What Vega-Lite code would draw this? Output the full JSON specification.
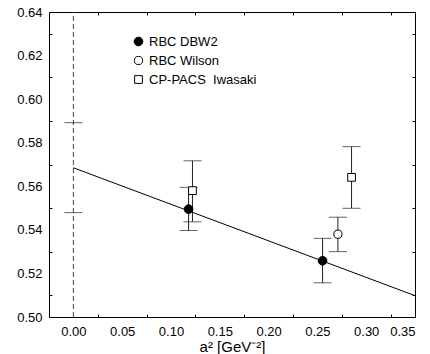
{
  "$schema": "https://vega.github.io/schema/vega-lite/v6.json",
  "width": 366,
  "height": 305,
  "autosize": {"type": "none"},
  "padding": {"left": 49, "top": 12, "right": 15, "bottom": 37},
  "config": {
    "font": "Liberation Sans",
    "view": {"stroke": "#000", "strokeWidth": 1},
    "axis": {"domain": false, "ticks": false, "grid": true, "gridColor": "#000", "gridOpacity": 1, "gridWidth": 1, "labelColor": "#000", "titleColor": "#000", "labelFontSize": 13, "titleFontSize": 15, "titleFontWeight": "normal"}
  },
  "datasets": {
    "bars": [
      {"series": "Extrapolation", "x": 0, "y": 0.5685, "lo": 0.5479, "hi": 0.5892},
      {"series": "RBC DBW2", "x": 0.118, "y": 0.5495, "lo": 0.5397, "hi": 0.5595},
      {"series": "RBC DBW2", "x": 0.2553, "y": 0.5258, "lo": 0.5157, "hi": 0.5361},
      {"series": "RBC Wilson", "x": 0.271, "y": 0.538, "lo": 0.530, "hi": 0.5458},
      {"series": "CP-PACS\u00a0\u00a0Iwasaki", "x": 0.122, "y": 0.558, "lo": 0.5437, "hi": 0.5717},
      {"series": "CP-PACS\u00a0\u00a0Iwasaki", "x": 0.285, "y": 0.5641, "lo": 0.5499, "hi": 0.5782}
    ],
    "fit": [{"x": 0, "y": 0.5685}, {"x": 0.35, "y": 0.5098}],
    "vline": [{"x": 0, "y": 0.50, "y2": 0.64}]
  },
  "resolve": {"axis": {"x": "independent", "y": "independent"}},
  "layer": [
    {
      "data": {"name": "vline"},
      "mark": {"type": "rule", "strokeDash": [5, 3], "color": "#444", "strokeWidth": 1},
      "encoding": {
        "x": {"field": "x", "type": "quantitative", "scale": {"domain": [-0.025, 0.35], "nice": false, "zero": false},
          "axis": {"orient": "bottom", "labels": false, "title": null, "gridDash": [3, 299],
            "values": [-0.025, 0.025, 0.075, 0.125, 0.175, 0.225, 0.275, 0.325]}},
        "y": {"field": "y", "type": "quantitative", "scale": {"domain": [0.5, 0.64], "nice": false, "zero": false},
          "axis": {"orient": "left", "labels": false, "title": null, "gridDash": [3, 360],
            "values": [0.51, 0.53, 0.55, 0.57, 0.59, 0.61, 0.63]}},
        "y2": {"field": "y2"}
      }
    },
    {
      "data": {"name": "fit"},
      "mark": {"type": "line", "color": "#000", "strokeWidth": 1},
      "encoding": {
        "x": {"field": "x", "type": "quantitative", "axis": null},
        "y": {"field": "y", "type": "quantitative", "axis": null}
      }
    },
    {
      "data": {"name": "bars"},
      "transform": [{"filter": "datum.series != 'Extrapolation'"}],
      "mark": {"type": "rule", "color": "#222", "strokeWidth": 1},
      "encoding": {
        "x": {"field": "x", "type": "quantitative", "axis": null},
        "y": {"field": "lo", "type": "quantitative", "axis": null},
        "y2": {"field": "hi"}
      }
    },
    {
      "data": {"name": "bars"},
      "mark": {"type": "tick", "orient": "horizontal", "color": "#222", "size": 18, "thickness": 1},
      "encoding": {
        "x": {"field": "x", "type": "quantitative", "axis": null},
        "y": {"field": "lo", "type": "quantitative", "axis": null}
      }
    },
    {
      "data": {"name": "bars"},
      "mark": {"type": "tick", "orient": "horizontal", "color": "#222", "size": 18, "thickness": 1},
      "encoding": {
        "x": {"field": "x", "type": "quantitative", "axis": null},
        "y": {"field": "hi", "type": "quantitative", "axis": null}
      }
    },
    {
      "data": {"name": "bars"},
      "transform": [{"filter": "datum.series != 'Extrapolation'"}],
      "mark": {"type": "point", "stroke": "#000", "strokeWidth": 1, "opacity": 1, "filled": false},
      "encoding": {
        "x": {"field": "x", "type": "quantitative",
          "axis": {"orient": "bottom", "title": "a² [GeV⁻²]", "titlePadding": 1, "labelPadding": 8, "gridDash": [6, 293],
            "values": [0, 0.05, 0.1, 0.15, 0.2, 0.25, 0.3, 0.35], "format": ".2f"}},
        "y": {"field": "y", "type": "quantitative",
          "axis": {"orient": "left", "title": null, "labelPadding": 7, "gridDash": [6, 354],
            "values": [0.5, 0.52, 0.54, 0.56, 0.58, 0.6, 0.62, 0.64], "format": ".2f"}},
        "shape": {"field": "series", "type": "nominal", "title": null,
          "scale": {"domain": ["RBC DBW2", "RBC Wilson", "CP-PACS\u00a0\u00a0Iwasaki"], "range": ["circle", "circle", "square"]},
          "legend": {"orient": "none", "legendX": 83, "legendY": 23, "labelFontSize": 13, "labelColor": "#000", "padding": 0, "rowPadding": 5, "labelOffset": 4, "symbolStrokeColor": "#000", "symbolStrokeWidth": 1}},
        "fill": {"field": "series", "type": "nominal", "title": null,
          "scale": {"domain": ["RBC DBW2", "RBC Wilson", "CP-PACS\u00a0\u00a0Iwasaki"], "range": ["#000", "#fff", "#fff"]}},
        "size": {"field": "series", "type": "nominal", "title": null,
          "scale": {"domain": ["RBC DBW2", "RBC Wilson", "CP-PACS\u00a0\u00a0Iwasaki"], "range": [75, 60, 40]}}
      }
    }
  ]
}
